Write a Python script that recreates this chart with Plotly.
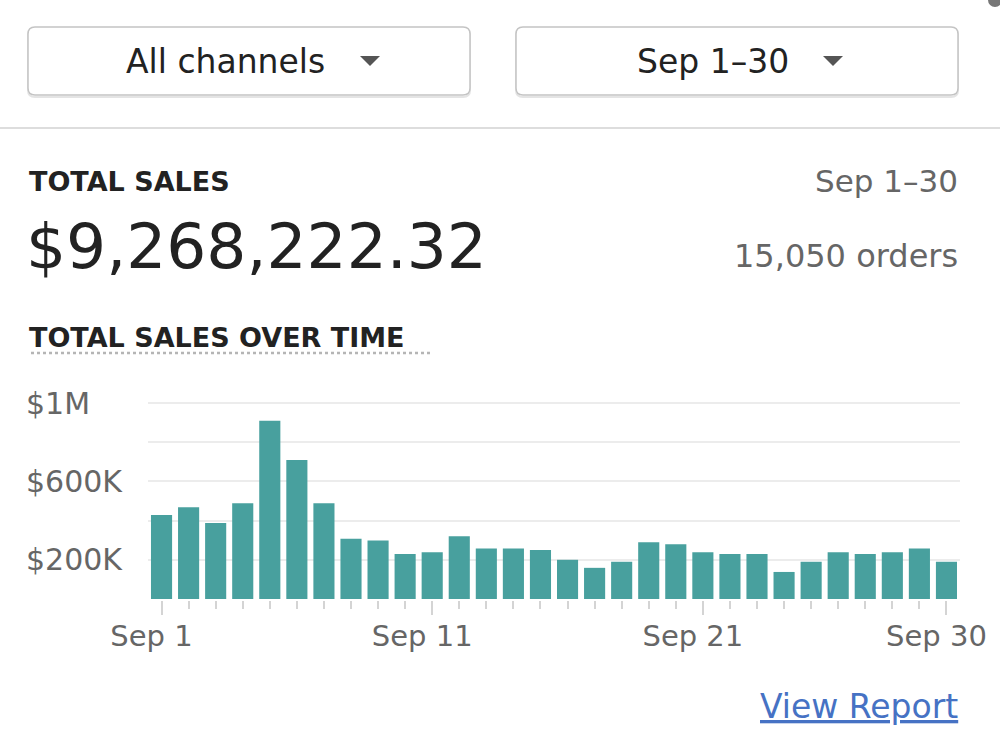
import plotly.graph_objects as go

# ---- data ----
days = list(range(1, 31))
sales = [429000, 468000, 388000, 489000, 909000, 709000, 489000, 308000, 299000, 229000,
         239000, 320000, 258000, 258000, 250000, 200000, 159000, 190000, 289000, 279000,
         239000, 229000, 229000, 138000, 190000, 239000, 229000, 239000, 258000, 190000]
x_tick_days = [1, 11, 21, 30]
x_tick_labels = ["Sep 1", "Sep 11", "Sep 21", "Sep 30"]
y_tick_vals = [200000, 600000, 1000000]
y_tick_labels = ["$200K", "$600K", "$1M"]
y_minor_vals = [0, 400000, 800000]

W, H = 1000, 750
FONT = "DejaVu Sans"
DARK = "#222222"
GRAY = "#666666"
TEAL = "#48a09e"
Y_LO, Y_HI = -5000, 1020000
PX_PER_UNIT = 196 / 1000000


def px(x):
    return x / W


def py(y):
    return 1 - y / H


fig = go.Figure()
fig.add_trace(go.Bar(x=days, y=sales, marker=dict(color=TEAL, line=dict(width=0)),
                     hoverinfo="skip"))

fig.update_layout(
    width=W, height=H, margin=dict(l=0, r=0, t=0, b=0, pad=0, autoexpand=False),
    paper_bgcolor="white", plot_bgcolor="white",
    showlegend=False, bargap=0.22,
    font=dict(family=FONT, color=DARK),
    xaxis=dict(domain=[px(148), px(960)], range=[0.5, 30.5], anchor="y",
               tickvals=x_tick_days, ticktext=x_tick_labels,
               ticks="outside", ticklen=14, tickwidth=2, tickcolor="#d4d4d4",
               minor=dict(tickvals=days, ticks="outside", ticklen=8, tickwidth=2,
                          tickcolor="#d4d4d4", showgrid=False),
               ticklabelshift=-10, ticklabelstandoff=-4,
               showgrid=False, showline=False, zeroline=False, automargin=False,
               tickfont=dict(family=FONT, size=29, color=GRAY), fixedrange=True),
    yaxis=dict(domain=[py(599 - Y_LO * PX_PER_UNIT), py(403 - (Y_HI - 1000000) * PX_PER_UNIT)],
               range=[Y_LO, Y_HI],
               side="right", anchor="free", position=px(25),
               tickvals=y_tick_vals, ticktext=y_tick_labels, ticks="",
               showgrid=True, gridcolor="#ececec", gridwidth=1.5,
               minor=dict(tickvals=y_minor_vals, showgrid=True, gridcolor="#ececec",
                          gridwidth=1.5),
               showline=False, zeroline=False, automargin=False,
               tickfont=dict(family=FONT, size=30, color=GRAY), fixedrange=True),
)


def rounded_box(x0, y0, x1, y1, r):
    X0, X1 = px(x0), px(x1)
    Y0, Y1 = py(y0), py(y1)
    rx, ry = r / W, r / H
    return (f"M {X0+rx},{Y0} L {X1-rx},{Y0} Q {X1},{Y0} {X1},{Y0-ry} "
            f"L {X1},{Y1+ry} Q {X1},{Y1} {X1-rx},{Y1} L {X0+rx},{Y1} "
            f"Q {X0},{Y1} {X0},{Y1+ry} L {X0},{Y0-ry} Q {X0},{Y0} {X0+rx},{Y0} Z")


def triangle(cx, cy, w, h):
    return (f"M {px(cx - w/2)},{py(cy - h/2)} L {px(cx + w/2)},{py(cy - h/2)} "
            f"L {px(cx)},{py(cy + h/2)} Z")


shapes = []
# drop-down boxes (with faint shadow)
for (a, b) in [(28, 470), (516, 958)]:
    shapes.append(dict(type="path", path=rounded_box(a, 29, b, 97, 7), xref="paper", yref="paper",
                       line=dict(color="#e4e4e4", width=2), fillcolor="rgba(0,0,0,0)", layer="above"))
    shapes.append(dict(type="path", path=rounded_box(a, 27, b, 95, 7), xref="paper", yref="paper",
                       line=dict(color="#c4c4c4", width=1.5), fillcolor="white", layer="above"))
shapes.append(dict(type="path", path=triangle(370, 61, 20, 10), xref="paper", yref="paper",
                   line=dict(width=0), fillcolor="#555555", layer="above"))
shapes.append(dict(type="path", path=triangle(833, 61, 20, 10), xref="paper", yref="paper",
                   line=dict(width=0), fillcolor="#555555", layer="above"))
# separator
shapes.append(dict(type="line", x0=0, x1=1, y0=py(128), y1=py(128), xref="paper", yref="paper",
                   line=dict(color="#dddddd", width=2)))
# dotted underline
shapes.append(dict(type="line", x0=px(31), x1=px(430), y0=py(353), y1=py(353), xref="paper",
                   yref="paper", line=dict(color="#b5b5b5", width=2.5, dash="dot")))
# small corner dot
shapes.append(dict(type="circle", x0=px(988), x1=px(1002), y0=py(7), y1=py(-7), xref="paper",
                   yref="paper", line=dict(width=0), fillcolor="#777777"))
fig.update_layout(shapes=shapes)


def ann(text, x, y, size, color, xanchor="left", bold=False):
    fig.add_annotation(text=f"<b>{text}</b>" if bold else text, x=px(x), y=py(y),
                       xref="paper", yref="paper", xanchor=xanchor, yanchor="middle",
                       showarrow=False, font=dict(family=FONT, size=size, color=color))


ann("All channels", 225, 61, 33, DARK, xanchor="center")
ann("Sep 1–30", 713, 61, 33, DARK, xanchor="center")
ann("TOTAL SALES", 27, 181, 27, DARK, bold=True)
ann("Sep 1–30", 960, 181, 31, GRAY, xanchor="right")
ann("$9,268,222.32", 24, 246, 63, DARK)
ann("15,050 orders", 960, 256, 32, GRAY, xanchor="right")
ann("TOTAL SALES OVER TIME", 27, 337, 27, DARK, bold=True)
ann("<u>View Report</u>", 960, 706, 33, "#4672c4", xanchor="right")

fig.write_html("out.html")
